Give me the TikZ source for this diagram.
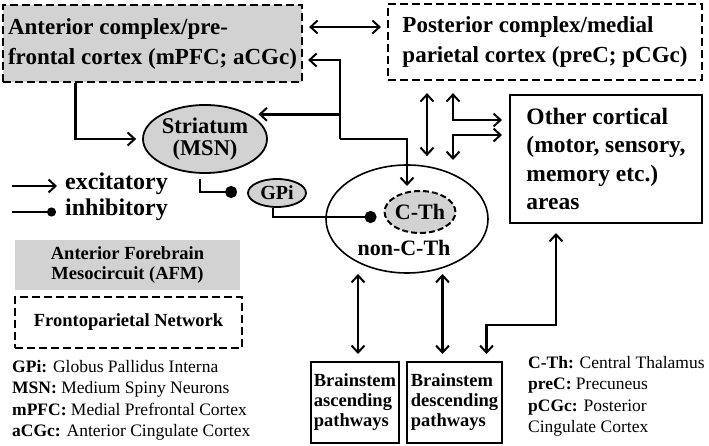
\documentclass[tikz,border=0pt]{standalone}
\usepackage{fontspec}
\setmainfont{Liberation Serif}
\usetikzlibrary{arrows.meta,positioning,shapes.geometric}

\tikzset{
  >={Straight Barb[length=7pt,width=13pt,line width=2pt]},
  conn/.style={line width=2.4pt},
  inh/.style={line width=2.4pt,-{Circle[length=12pt]}},
  big/.style={font=\fontsize{23}{30}\selectfont\bfseries},
  mid/.style={font=\fontsize{18.5}{20}\selectfont\bfseries},
  gloss/.style={font=\fontsize{17.5}{21.5}\selectfont,align=left,inner sep=0pt},
  dashbox/.style={draw,line width=2.2pt,dash pattern=on 8pt off 4pt},
  plainbox/.style={draw,line width=2pt},
  oval/.style={ellipse,draw,line width=1.8pt,inner sep=0pt}
}

\begin{document}
\begin{tikzpicture}[x=1pt,y=-1pt]
\useasboundingbox (0,0) rectangle (709,446);

% cortex boxes
\node[dashbox,fill=gray!35,big,minimum width=299pt,minimum height=77pt,inner sep=2pt,align=left] (ant) at (152.5,43.5) {Anterior complex/pre-\\frontal cortex (mPFC; aCGc)};
\node[dashbox,big,minimum width=314pt,minimum height=76pt,inner sep=2pt,align=left] (post) at (545,42) {Posterior complex/medial\\parietal cortex (preC; pCGc)};
\node[plainbox,font=\fontsize{23.5}{28.5}\selectfont\bfseries,minimum width=192pt,minimum height=128pt,inner sep=2pt,align=left] (other) at (606,159) {Other cortical\\(motor, sensory,\\memory etc.)\\areas};

% basal ganglia and thalamus
\node[oval,fill=gray!35,minimum width=124pt,minimum height=68pt,align=center,font=\fontsize{22.5}{21.5}\selectfont\bfseries] (str) at (205,139) {Striatum\\(MSN)};
\node[oval,fill=gray!35,minimum width=58pt,minimum height=28pt,font=\fontsize{20}{20}\selectfont\bfseries] (gpi) at (277,193) {GPi};
\node[oval,line width=1.6pt,minimum width=162pt,minimum height=108pt] (thal) at (407,219) {};
\node[oval,fill=gray!35,dash pattern=on 6pt off 3pt,line width=2pt,minimum width=70pt,minimum height=42pt,font=\fontsize{22}{22}\selectfont\bfseries] (cth) at (420,212) {C-Th};
\node[font=\fontsize{22}{22}\selectfont\bfseries] (ncth) at (404,248) {non-C-Th};

% brainstem
\node[plainbox,mid,minimum width=88pt,minimum height=81pt,inner sep=2pt,align=left] (asc) at (355,402.5) {Brainstem\\ascending\\pathways};
\node[plainbox,mid,minimum width=95pt,minimum height=81pt,inner sep=2pt,align=left] (desc) at (454.5,402.5) {Brainstem\\descending\\pathways};

% key
\node[fill=gray!35,mid,minimum width=225pt,minimum height=50pt,align=center] (afm) at (127.5,265) {Anterior Forebrain\\Mesocircuit (AFM)};
\node[dashbox,mid,minimum width=227pt,minimum height=51pt] (fpn) at (128.5,322.5) {Frontoparietal Network};
\coordinate (e1) at (12,186);
\coordinate (e2) at (57,186);
\coordinate (i1) at (12,212);
\coordinate (i2) at (56,212);
\draw[conn,->] (e1) -- (e2);
\draw[line width=2.4pt,-{Circle[length=9pt]}] (i1) -- (i2);
\node[anchor=west,font=\fontsize{24}{24}\selectfont\bfseries,inner sep=0pt] (exl) at (65,184) {excitatory};
\node[anchor=west,font=\fontsize{24}{24}\selectfont\bfseries,inner sep=0pt] (inl) at (65,210) {inhibitory};

\node[gloss,anchor=north west] (glo1) at (12,360) {\textbf{GPi:} Globus Pallidus Interna\\\textbf{MSN:} Medium Spiny Neurons\\\textbf{mPFC:} Medial Prefrontal Cortex\\\textbf{aCGc:} Anterior Cingulate Cortex};
\node[gloss,anchor=north west] (glo2) at (528,356) {\textbf{C-Th:} Central Thalamus\\\textbf{preC:} Precuneus\\\textbf{pCGc:} Posterior\\Cingulate Cortex};

% connections
\coordinate (jn) at (340,139);
\coordinate (l2) at (453,160);
\draw[conn,<->,shorten <=6pt,shorten >=6pt] (ant.east |- 0,27) -- (post.west |- 0,27);
\draw[conn,->,shorten >=5pt] (jn) |- (ant.east |- 0,60);
\draw[conn,->,shorten >=9pt] (jn |- str.north east) -- (str.north east);
\draw[conn,->] (jn) -| ([xshift=-13pt,yshift=4pt]cth.north);
\draw[conn,->,shorten >=6pt] ([xshift=-77pt]ant.south) |- (str.west);
\draw[inh,shorten <=5pt,shorten >=10pt] ([xshift=-5pt]str.south) |- (gpi.west |- 0,192);
\draw[inh,shorten >=7pt] ([xshift=-4pt]gpi.south) |- (cth.west |- 0,217);
\draw[conn,<->] ([yshift=-12pt]post.south -| 427,0) -- ++(0,63);
\draw[conn,<->,shorten >=7pt] ([yshift=-12pt]post.south -| 453,0) |- (other.west |- 0,120);
\draw[conn,<->,shorten <=7pt] (other.west |- 0,135) -| (l2);
\draw[conn,<->] ([xshift=3pt,yshift=7pt]asc.north) -- ++(0,-80);
\draw[conn,<->] ([xshift=-12pt,yshift=7pt]desc.north) -- ++(0,-80);
\draw[conn,<->] ([yshift=-9pt]other.south -| 556,0) |- ([xshift=32pt]desc.north |- 0,325) -- ([xshift=32pt,yshift=7pt]desc.north);
\end{tikzpicture}
\end{document}
